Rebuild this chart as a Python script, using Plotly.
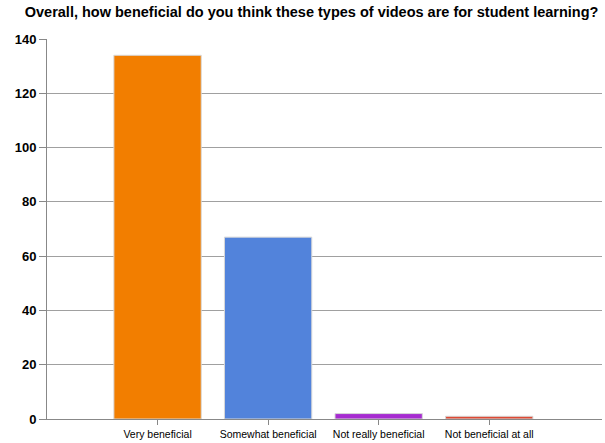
import plotly.graph_objects as go

categories = ["Very beneficial", "Somewhat beneficial", "Not really beneficial", "Not beneficial at all"]
counts = [134, 67, 2, 1]
colors = ["#F27E00", "#5283DB", "#A62BD0", "#DD4A35"]

fig = go.Figure()
fig.add_trace(go.Bar(
    x=list(range(len(categories))), y=counts,
    marker=dict(color=colors, line=dict(color="#D8D8D8", width=1)),
    width=0.79,
))

fig.update_layout(
    width=605, height=443,
    margin=dict(l=47, r=3, t=39, b=20),
    paper_bgcolor="white", plot_bgcolor="white",
    showlegend=False,
    title=dict(text="<b>Overall, how beneficial do you think these types of videos are for student learning?</b>",
               x=0.515, xanchor="center", y=0.972, yanchor="middle",
               font=dict(family="Liberation Sans, Arial", size=14.5, color="black")),
    xaxis=dict(range=[-1.0, 4.02], tickmode="array", tickvals=list(range(len(categories))),
               ticktext=categories, showgrid=False, showline=True, linecolor="#888888", linewidth=1,
               ticks="outside", ticklen=5, tickcolor="#888888",
               tickfont=dict(family="Liberation Sans, Arial", size=10.5, color="black")),
    yaxis=dict(range=[0, 140], dtick=20, showgrid=True, gridcolor="#A0A0A0", gridwidth=1.2,
               showline=True, linecolor="#888888", linewidth=1, ticks="outside", ticklen=7,
               tickcolor="#888888", zeroline=False, tickprefix="<b>", ticksuffix="</b>",
               tickfont=dict(family="Liberation Sans, Arial", size=13, color="black")),
)
fig.write_html("out.html")
